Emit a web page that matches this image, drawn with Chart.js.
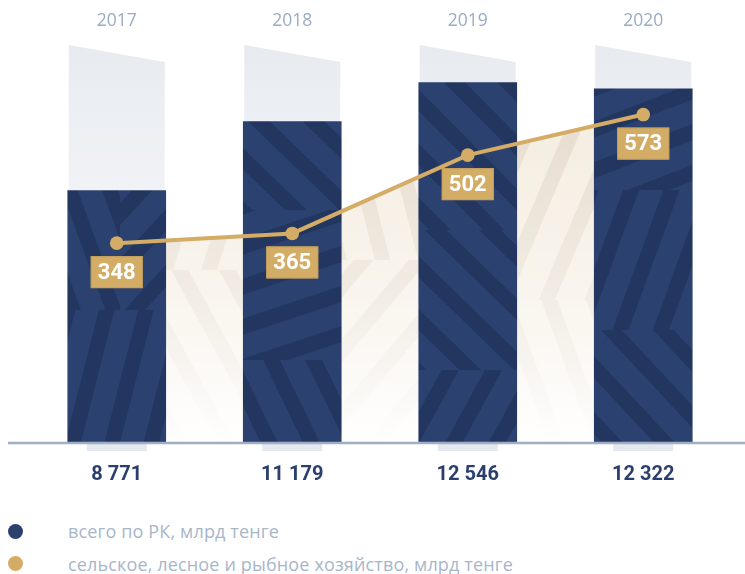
<!DOCTYPE html>
<html><head><meta charset="utf-8">
<script src="https://cdn.jsdelivr.net/npm/chart.js@4/dist/chart.umd.min.js"></script>
<style>
html,body{margin:0;padding:0;background:#fff;}
#wrap{position:relative;width:745px;height:574px;overflow:hidden;}
#box{position:absolute;left:0;top:0;width:745px;height:505px;}
.leg{position:absolute;left:68px;font-family:"Open Sans",sans-serif;font-size:18px;letter-spacing:0.15px;line-height:24px;color:#a8b6ca;white-space:nowrap;}
.dot{position:absolute;left:7.5px;width:15px;height:15px;border-radius:50%;}
</style></head>
<body><div id="wrap"><div id="box"><canvas id="c"></canvas></div><div id="legend"></div></div>
<script>
// ---- data ----
const years = ['2017', '2018', '2019', '2020'];
const totalRK = [8771, 11179, 12546, 12322];
const agriculture = [348, 365, 502, 573];
const seriesNames = ['всего по РК, млрд тенге', 'сельское, лесное и рыбное хозяйство, млрд тенге'];
const seriesColors = ['#2b406f', '#d4ac66'];

const W = 745, H = 505;
function fmt(n){ return String(n).replace(/\B(?=(\d{3})+(?!\d))/g, ' '); }

function bandsIn(g, x0, y0, w, h, ang, step, bw){
  g.save(); g.beginPath(); g.rect(x0, y0, w, h); g.clip();
  g.translate(x0 + w/2, y0 + h/2); g.rotate(ang);
  for (let k = -700; k < 700; k += step) g.fillRect(k, -700, bw, 1400);
  g.restore();
}
function navyTexture(){
  const cv = document.createElement('canvas'); cv.width = W; cv.height = H;
  const g = cv.getContext('2d');
  g.fillStyle = '#2b416f'; g.fillRect(0, 0, W, H);
  g.fillStyle = '#22365f';
  // [x, y, w, h, angle]
  const blocks = [
    [0, 40, 180, 150, 0.8], [0, 190, 120, 120, -0.35], [0, 310, 180, 200, 0.25],
    [120, 190, 60, 120, 0.75], [180, 40, 190, 170, -0.8], [180, 210, 190, 150, 1.25],
    [180, 360, 190, 150, -0.45], [370, 40, 190, 190, -0.78], [370, 230, 190, 140, -0.8],
    [370, 370, 190, 140, 0.5], [560, 40, 190, 150, 1.2], [560, 190, 190, 140, 0.35],
    [560, 330, 190, 180, -0.75]
  ];
  blocks.forEach(b => bandsIn(g, b[0], b[1], b[2], b[3], b[4], 38, 15));
  return g.createPattern(cv, 'no-repeat');
}
function beigeTexture(){
  const cv = document.createElement('canvas'); cv.width = W; cv.height = H;
  const g = cv.getContext('2d');
  g.fillStyle = '#f5eee2'; g.fillRect(0, 0, W, H);
  g.fillStyle = '#e8dfd1';
  const blocks = [
    [0, 100, 250, 170, 0.3], [0, 270, 250, 240, -0.5], [250, 100, 180, 160, -0.25],
    [250, 260, 180, 250, 0.7], [430, 100, 180, 200, 0.4], [430, 300, 180, 210, -0.35],
    [610, 100, 140, 410, 0.6]
  ];
  blocks.forEach(b => bandsIn(g, b[0], b[1], b[2], b[3], b[4], 42, 15));
  const fade = g.createLinearGradient(0, 140, 0, 440);
  fade.addColorStop(0, 'rgba(255,255,255,0)');
  fade.addColorStop(0.5, 'rgba(255,255,255,0.4)');
  fade.addColorStop(1, 'rgba(255,255,255,0.97)');
  g.fillStyle = fade; g.fillRect(0, 0, W, H);
  return g.createPattern(cv, 'no-repeat');
}

const backdrop = {
  id: 'backdrop',
  beforeDraw(chart){
    const ctx = chart.ctx, ca = chart.chartArea;
    const meta = chart.getDatasetMeta(1);
    ctx.save();
    meta.data.forEach(b => {
      const l = b.x - b.width/2 + 1, r = b.x + b.width/2 - 1;
      const gr = ctx.createLinearGradient(0, ca.top, 0, ca.top + 160);
      gr.addColorStop(0, '#e7ebf0'); gr.addColorStop(1, '#f1f3f6');
      ctx.fillStyle = gr;
      ctx.beginPath();
      ctx.moveTo(l, ca.top + 3); ctx.lineTo(r, ca.top + 20);
      ctx.lineTo(r, ca.bottom); ctx.lineTo(l, ca.bottom); ctx.closePath();
      ctx.fill();
      ctx.fillStyle = '#e4e9f0';
      ctx.fillRect(b.x - 30, ca.bottom + 2, 60, 7);
    });
    ctx.restore();
  },
  afterDatasetsDraw(chart){
    const ctx = chart.ctx, ca = chart.chartArea;
    ctx.save();
    ctx.strokeStyle = '#9eafc5'; ctx.lineWidth = 2.5;
    ctx.beginPath(); ctx.moveTo(8, ca.bottom + 1); ctx.lineTo(W, ca.bottom + 1); ctx.stroke();
    const meta = chart.getDatasetMeta(0);
    meta.data.forEach((p, i) => {
      const bw = 52, bh = 32, top = p.y + 13;
      ctx.fillStyle = '#d3ac66';
      ctx.fillRect(p.x - bw/2, top, bw, bh);
      ctx.strokeStyle = '#c59f5c'; ctx.lineWidth = 1;
      ctx.strokeRect(p.x - bw/2 + 0.5, top + 0.5, bw - 1, bh - 1);
      ctx.fillStyle = '#ffffff';
      ctx.font = 'bold 22px Roboto';
      ctx.textAlign = 'center'; ctx.textBaseline = 'middle';
      ctx.fillText(String(agriculture[i]), p.x, top + bh/2 + 1);
    });
    ctx.restore();
  }
};

Chart.defaults.font.family = 'Roboto';
const chart = new Chart(document.getElementById('c'), {
  data: {
    labels: years,
    datasets: [
      {
        type: 'line', label: seriesNames[1], data: agriculture, yAxisID: 'y2', order: 0,
        borderColor: seriesColors[1], borderWidth: 4, pointRadius: 6.8, pointHoverRadius: 6.8,
        pointBackgroundColor: seriesColors[1], pointBorderWidth: 0,
        fill: 'origin', backgroundColor: beigeTexture(), tension: 0
      },
      {
        type: 'bar', label: seriesNames[0], data: totalRK, yAxisID: 'y', order: 1,
        backgroundColor: navyTexture(), barThickness: 98, borderWidth: 0
      }
    ]
  },
  options: {
    responsive: true, maintainAspectRatio: false, animation: false,
    layout: { padding: { left: 29, right: 14, top: 0, bottom: 0 } },
    plugins: { legend: { display: false }, tooltip: { enabled: false }, filler: { drawTime: 'beforeDatasetsDraw' } },
    scales: {
      x: {
        position: 'bottom', offset: true,
        grid: { display: false, drawTicks: false }, border: { display: false },
        afterFit(s){ s.height = 63; },
        ticks: { padding: 21, color: '#2b3f6e', font: { family: 'Roboto', size: 20, weight: 'bold' },
                 callback: (v, i) => fmt(totalRK[i]) }
      },
      xTop: {
        type: 'category', position: 'top', offset: true,
        grid: { display: false, drawTicks: false }, border: { display: false },
        afterFit(s){ s.height = 42; },
        ticks: { padding: 10.5, color: '#9aabc4', font: { family: 'Open Sans', size: 17.5 } }
      },
      y: { display: false, min: 0, max: 13960 },
      y2: { display: false, min: 0, max: 700 }
    }
  },
  plugins: [backdrop]
});

const leg = document.getElementById('legend');
const pos = [{dot: 524, txt: 518.5}, {dot: 555.5, txt: 551.5}];
seriesNames.forEach((name, i) => {
  const d = document.createElement('div'); d.className = 'dot';
  d.style.top = pos[i].dot + 'px'; d.style.background = seriesColors[i];
  const t = document.createElement('div'); t.className = 'leg';
  t.style.top = pos[i].txt + 'px'; t.textContent = name;
  leg.appendChild(d); leg.appendChild(t);
});
</script>
</body></html>
